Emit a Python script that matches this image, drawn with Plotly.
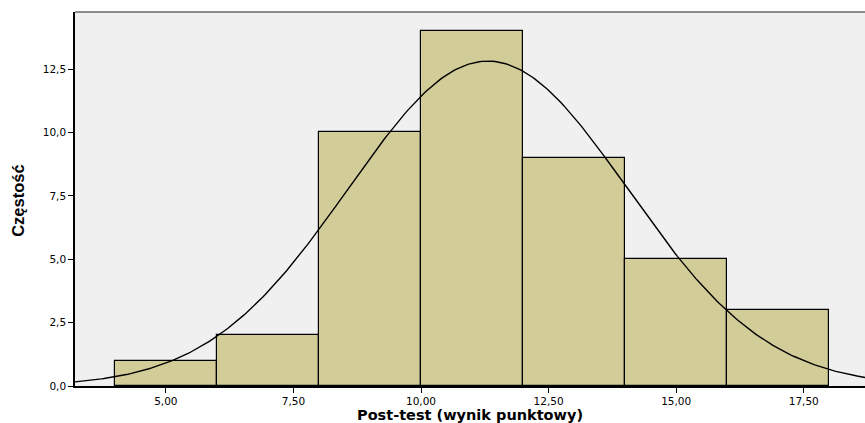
import numpy as np
import plotly.graph_objects as go

# histogram bins (Post-test scores) and counts
bin_left = [4, 6, 8, 10, 12, 14, 16]
bin_width = 2
counts = [1, 2, 10, 14, 9, 5, 3]

# fitted normal curve parameters
mean_score = 11.31
sd_score = 2.74
n_total = sum(counts)

x_ticks = [5.0, 7.5, 10.0, 12.5, 15.0, 17.5]
y_ticks = [0.0, 2.5, 5.0, 7.5, 10.0, 12.5]

x_range = [3.22, 18.7]
y_range = [0, 14.75]

centers = [b + bin_width / 2 for b in bin_left]

xs = np.linspace(x_range[0], x_range[1], 300)
ys = n_total * bin_width / (sd_score * np.sqrt(2 * np.pi)) * np.exp(-0.5 * ((xs - mean_score) / sd_score) ** 2)

fig = go.Figure()
fig.add_trace(go.Bar(x=centers, y=counts, width=bin_width,
                     marker=dict(color='#d2cd98', line=dict(color='black', width=1.2)),
                     hoverinfo='skip'))
fig.add_trace(go.Scatter(x=xs, y=ys, mode='lines',
                         line=dict(color='black', width=1.4), hoverinfo='skip'))

fig.update_layout(
    width=865, height=423,
    margin=dict(l=75, r=0, t=12, b=37),
    paper_bgcolor='white',
    plot_bgcolor='#f0f0f0',
    showlegend=False,
    separators=', ',
    font=dict(family='DejaVu Sans, Arial, sans-serif', color='black', size=10),
    bargap=0,
)
fig.update_xaxes(range=x_range, tickvals=x_ticks, tickformat='.2f',
                 showgrid=False, zeroline=False,
                 showline=True, linecolor='black', linewidth=1.5,
                 ticks='outside', ticklen=5, tickcolor='black', tickwidth=1.2,
                 tickfont=dict(size=10.5), automargin=False)
fig.update_yaxes(range=y_range, tickvals=y_ticks, tickformat='.1f',
                 showgrid=False, zeroline=False,
                 showline=True, linecolor='black', linewidth=1.5,
                 ticks='outside', ticklen=5, tickcolor='black', tickwidth=1.2,
                 tickfont=dict(size=10.5), automargin=False)

# axis titles
fig.add_annotation(text='<b>Post-test (wynik punktowy)</b>', xref='paper', yref='paper',
                   x=0.5, y=0, yshift=-29, xanchor='center', yanchor='middle', showarrow=False,
                   font=dict(family='DejaVu Sans, Arial, sans-serif', size=14.5))
fig.add_annotation(text='<b>Częstość</b>', xref='paper', yref='paper',
                   x=0, xshift=-57, y=0.495, xanchor='center', yanchor='middle', showarrow=False,
                   textangle=-90,
                   font=dict(family='Liberation Sans Narrow, Liberation Sans, Arial, sans-serif', size=16.5))

# gray top frame line
fig.add_shape(type='line', xref='paper', yref='paper', x0=0, x1=1, y0=1, y1=1,
              line=dict(color='#8c8c8c', width=2))

fig.write_html("out.html", config=dict(displayModeBar=False),
               post_script="document.body.style.margin='0';document.body.style.overflow='hidden';")
